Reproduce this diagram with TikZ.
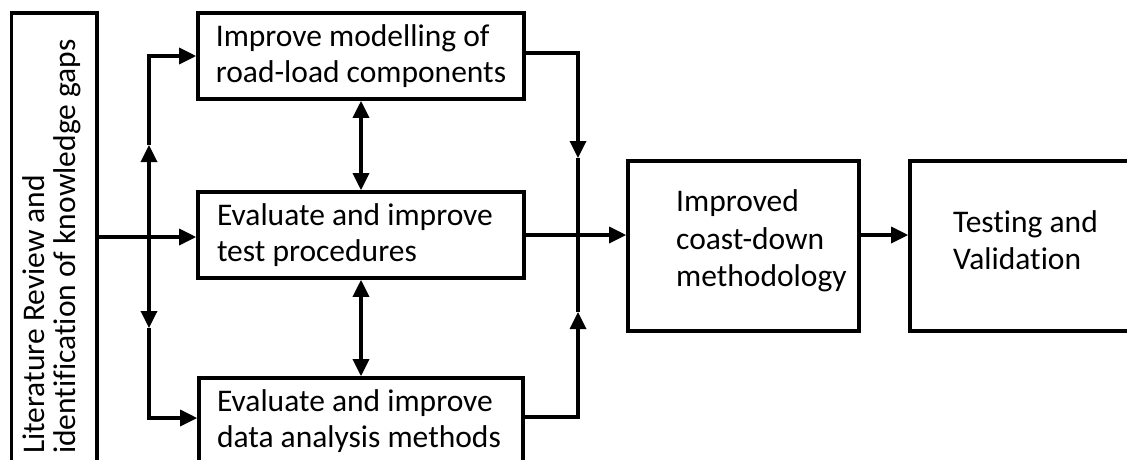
\documentclass[tikz,border=0pt]{standalone}
\usepackage{fontspec}
\setmainfont{Carlito}[Ligatures=NoCommon]
\usetikzlibrary{arrows.meta}
\begin{document}
\begin{tikzpicture}[x=1pt,y=-1pt,
  box/.style={draw,line width=3.6pt,inner sep=0pt,align=left,
    font=\fontsize{31.5}{36}\selectfont},
  txt/.style={inner sep=0pt,align=left,font=\fontsize{31.5}{37.5}\selectfont},
  tip/.tip={Triangle[length=17pt 0 0,width=16pt 0 0]},
  arr/.style={line width=3.4pt,-tip},
  dbl/.style={line width=3.4pt,tip-tip},
  ln/.style={line width=3.4pt}]
\clip (0,0) rectangle (1127,459);
\fill[white] (0,0) rectangle (1127,459);
% boxes
\node[box,minimum width=85.5pt,minimum height=470pt] (lit) at (54.25,248) {};
\node[txt,rotate=90,anchor=west,font=\fontsize{31.5}{31.5}\selectfont] (littxt) at (52,454)
  {Literature Review and\\identification of knowledge gaps};
\node[box,minimum width=326pt,minimum height=86pt] (top) at (361,56)
  {Improve modelling of\\road-load components};
\node[box,minimum width=326pt,minimum height=86pt] (mid) at (361,235)
  {\makebox[288pt][l]{Evaluate and improve}\\test procedures};
\node[box,minimum width=324pt,minimum height=86pt] (bot) at (361,421)
  {\makebox[288pt][l]{Evaluate and improve}\\data analysis methods};
\node[box,minimum width=231pt,minimum height=170pt] (coast) at (743.5,246) {};
\node[txt,anchor=west] (coasttxt) at (676,241) {Improved\\coast-down\\methodology};
\node[box,minimum width=230pt,minimum height=170pt] (test) at (1025,246) {};
\node[txt,anchor=west] (testtxt) at (953,240) {Testing and\\Validation};
% left distribution
\coordinate (jt) at (149,56);
\coordinate (jm) at (149,237);
\coordinate (jb) at (149,418);
\coordinate (ut) at (149,145);
\coordinate (dt) at (149,328);
\draw[arr] (lit.east |- jm) -- (mid.west |- jm);
\draw[arr] (jm) -- (ut);
\draw[arr] (ut) -- (jt) -- (top.west |- jt);
\draw[arr] (jm) -- (dt);
\draw[arr] (dt) -- (jb) -- (bot.west |- jb);
% vertical double arrows
\draw[dbl] (top.south) -- (mid.north);
\draw[dbl] (mid.south) -- (bot.north);
% right merge
\coordinate (rt) at (578,53);
\coordinate (rm) at (578,235);
\coordinate (rb) at (578,417);
\coordinate (rdt) at (578,158);
\coordinate (rut) at (578,312);
\draw[arr] (top.east |- rt) -- (rt) -- (rdt);
\draw[ln] (rdt) -- (rm);
\draw[arr] (bot.east |- rb) -- (rb) -- (rut);
\draw[ln] (rut) -- (rm);
\draw[arr] (mid.east |- rm) -- (coast.west |- rm);
\draw[arr] (coast.east |- rm) -- (test.west |- rm);
\end{tikzpicture}
\end{document}
